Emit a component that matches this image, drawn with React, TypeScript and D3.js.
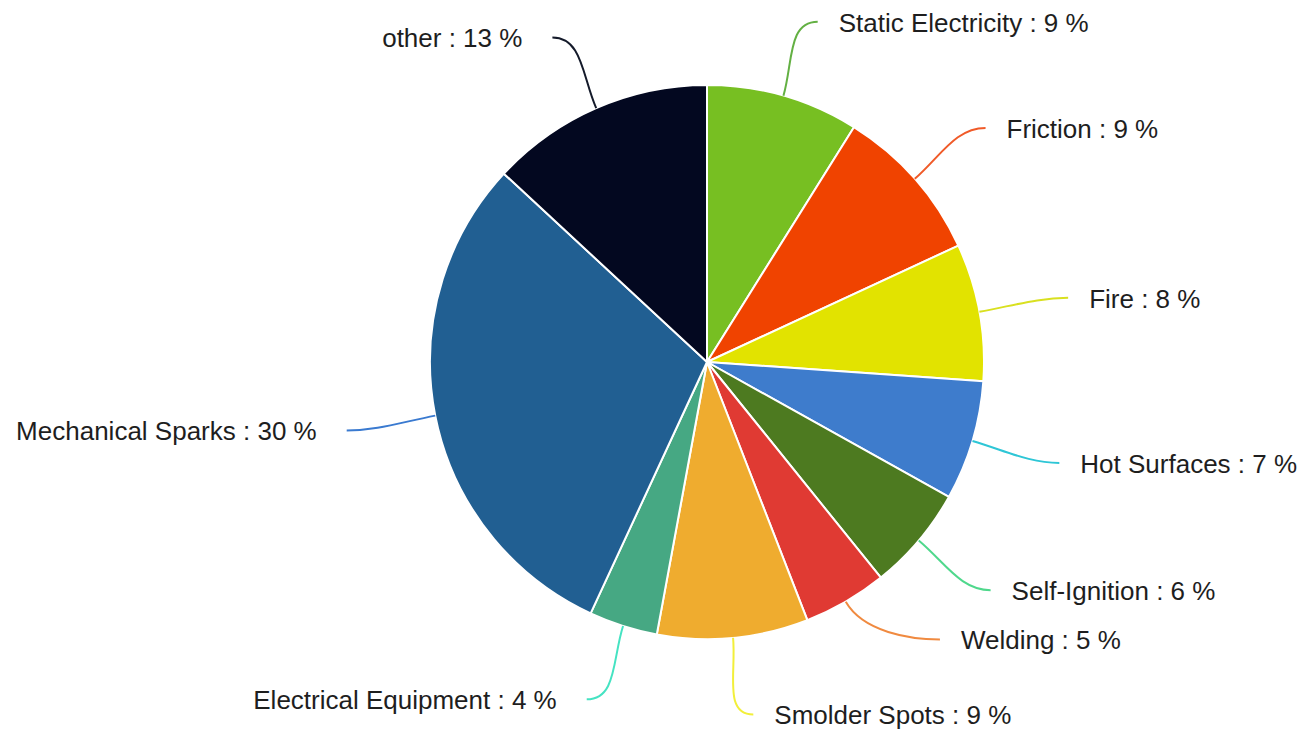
import React from "react";
import * as d3 from "d3";

const categories = [
  "Static Electricity",
  "Friction",
  "Fire",
  "Hot Surfaces",
  "Self-Ignition",
  "Welding",
  "Smolder Spots",
  "Electrical Equipment",
  "Mechanical Sparks",
  "other",
];
const shares = [8.9, 9.2, 8.0, 7.0, 6.1, 4.9, 8.8, 4.0, 30.0, 13.1];
const sliceColors = [
  "#77bf22", "#f04300", "#e2e300", "#3e7ccc", "#4d7a20",
  "#e03a33", "#efac2f", "#46a883", "#215f92", "#030820",
];
const tickColors = [
  "#63b043", "#f05a28", "#d9e020", "#2ec6d6", "#4fd88c",
  "#f08a40", "#f2ef3a", "#45e3c2", "#3a7ad0", "#141a2a",
];
// label nudges (layout only) to mirror the reference's overlap avoidance
const labelNudge: Record<string, number> = { Welding: -29 };

export default function App() {
  const W = 1302, H = 732;
  const cx = 707, cy = 362, R = 277, R2 = 354;
  const pie = d3.pie<number>().sort(null).value((d) => d);
  const arcs = pie(shares);
  const arc = d3.arc<d3.PieArcDatum<number>>().innerRadius(0).outerRadius(R);

  return (
    <svg width={W} height={H} style={{ position: "absolute", left: 0, top: 0, background: "#fff" }}
      fontFamily="'Liberation Sans', Arial, sans-serif">
      <g transform={`translate(${cx},${cy})`}>
        {arcs.map((a, i) => (
          <path key={i} d={arc(a) || ""} fill={sliceColors[i]} stroke="#fff" strokeWidth={2} strokeLinejoin="round" />
        ))}
        {arcs.map((a, i) => {
          const mid = (a.startAngle + a.endAngle) / 2;
          const sx = Math.sin(mid), sy = -Math.cos(mid);
          const side = sx >= 0 ? 1 : -1;
          const p0x = R * sx, p0y = R * sy;
          const ey = R2 * sy + (labelNudge[categories[i]] || 0);
          const ex = side * (Math.sqrt(Math.max(0, R2 * R2 - ey * ey)) + 13);
          const p1x = p0x + sx * 35, p1y = p0y + sy * 35;
          const p2x = ex - side * 30, p2y = ey;
          const d = `M${p0x},${p0y} C${p1x},${p1y} ${p2x},${p2y} ${ex},${ey}`;
          const tx = ex + side * (side > 0 ? 21 : 30);
          return (
            <g key={i}>
              <path d={d} fill="none" stroke={tickColors[i]} strokeWidth={2} />
              <text x={tx} y={ey} dy="0.38em" textAnchor={side > 0 ? "start" : "end"} fontSize={26} fill="#1e1e1e">
                {`${categories[i]} : ${Math.round(a.data)} %`}
              </text>
            </g>
          );
        })}
      </g>
    </svg>
  );
}
